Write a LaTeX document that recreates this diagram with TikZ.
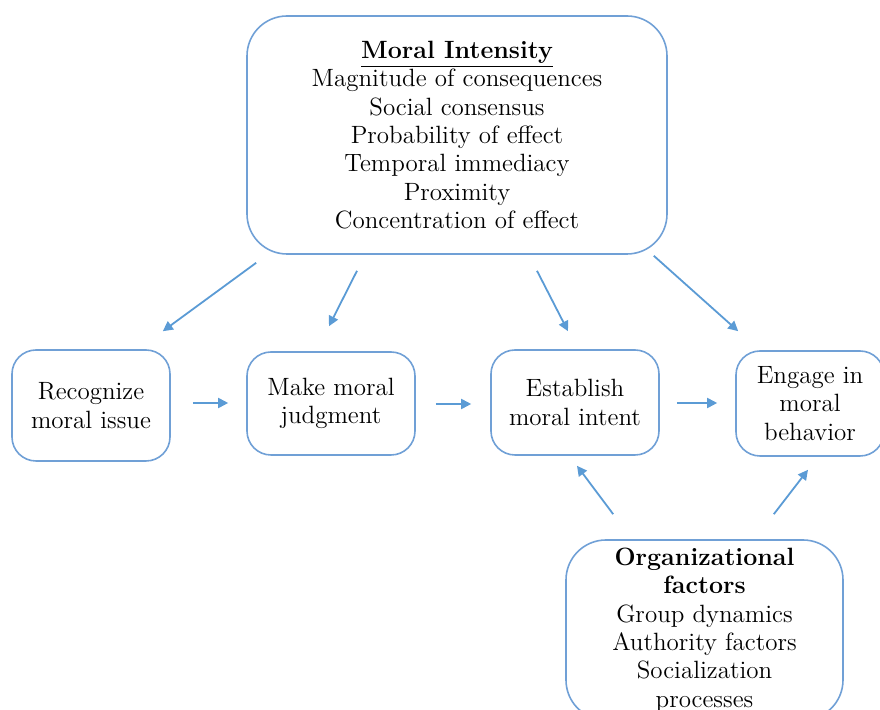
\documentclass[tikz,border=0pt]{standalone}
\usepackage{xcolor}
\usepackage{tikz}
\usetikzlibrary{positioning,arrows.meta}
\definecolor{boxblue}{RGB}{112,160,214}
\definecolor{arrowblue}{RGB}{91,155,213}

\begin{document}
\begin{tikzpicture}[
    x=0.5pt, y=-0.5pt,
    big/.style={rectangle, draw=boxblue, line width=0.8pt, rounded corners=20pt, align=center, inner sep=0pt, font=\fontsize{12.5}{14.2}\selectfont},
    stage/.style={rectangle, draw=boxblue, line width=0.8pt, rounded corners=12pt, align=center, inner sep=0pt, font=\fontsize{12.5}{14.2}\selectfont},
    arrow/.style={-{Triangle[length=5pt,width=5pt]}, line width=0.9pt, draw=arrowblue}
]
    \useasboundingbox (0,0) rectangle (880,710);
    \clip (0,0) rectangle (880,710);

    % Moral intensity
    \node[big, minimum width=210pt, minimum height=119pt] (intensity) at (457,135)
        {\underline{\textbf{Moral Intensity}}\\Magnitude of consequences\\Social consensus\\Probability of effect\\Temporal immediacy\\Proximity\\Concentration of effect};

    % Decision stages
    \node[stage, minimum width=79pt, minimum height=55.5pt] (recognize) at (91,405.5) {Recognize\\moral issue};
    \node[stage, minimum width=84pt, minimum height=51.5pt] (judgment) at (331,403.5) {Make moral\\judgment};
    \node[stage, minimum width=84pt, minimum height=52.5pt] (intent) at (575,402.5) {Establish\\moral intent};
    \node[stage, minimum width=74pt, minimum height=52.5pt] (behavior) at (810,403.5) {Engage in\\moral\\behavior};

    % Organizational factors
    \node[big, minimum width=138.5pt, minimum height=90pt] (orgfactors) at (704.5,630)
        {\textbf{Organizational}\\\textbf{factors}\\Group dynamics\\Authority factors\\Socialization\\processes};

    % Arrows from moral intensity
    \draw[arrow] ([shift={(10,8)}]intensity.south west) -- ([shift={(-8,-18)}]recognize.north east);
    \draw[arrow] ([shift={(-100,16)}]intensity.south) -- ([shift={(-2,-25)}]judgment.north);
    \draw[arrow] ([shift={(80,16)}]intensity.south) -- ([shift={(-7,-18)}]intent.north);
    \draw[arrow] ([shift={(-14,1)}]intensity.south east) -- ([shift={(3,-19)}]behavior.north west);

    % Arrows between stages
    \draw[arrow] ([shift={(22,-2.5)}]recognize.east) -- ([shift={(-18,-0.5)}]judgment.west);
    \draw[arrow] ([shift={(20,0.5)}]judgment.east) -- ([shift={(-19,1.5)}]intent.west);
    \draw[arrow] ([shift={(17,0.5)}]intent.east) -- ([shift={(-18,-0.5)}]behavior.west);

    % Arrows from organizational factors
    \draw[arrow] ([shift={(48,-25)}]orgfactors.north west) -- ([shift={(2,10)}]intent.south);
    \draw[arrow] ([shift={(-70,-25)}]orgfactors.north east) -- ([shift={(-2,13)}]behavior.south);
\end{tikzpicture}
\end{document}
